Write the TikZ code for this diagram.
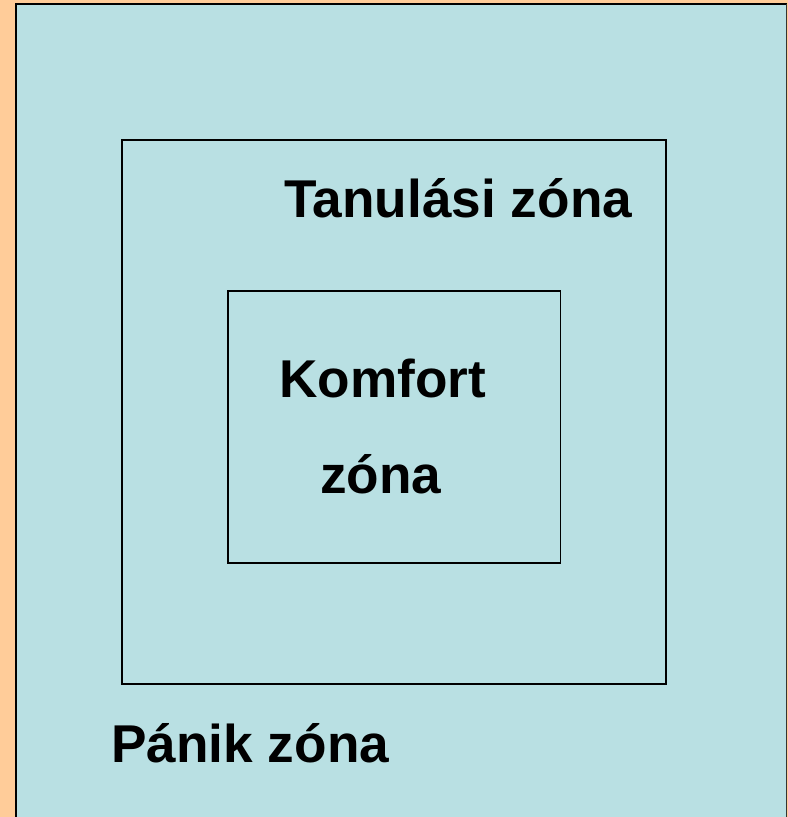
\documentclass[tikz,border=0pt]{standalone}
\usepackage{fontspec}
\setmainfont{Liberation Sans}
\definecolor{bgorange}{RGB}{255,204,153}
\definecolor{zoneblue}{RGB}{185,224,227}
\tikzset{
  zonebox/.style={draw=black, line width=1.5pt*0.75},
  zonelabel/.style={anchor=base west, inner sep=0pt, font=\fontsize{39.9pt}{46pt}\selectfont\bfseries}
}
\begin{document}
\begin{tikzpicture}[x=0.75pt,y=-0.75pt]
\useasboundingbox (0,0) rectangle (788,817);
\fill[bgorange] (0,0) rectangle (788,817);
\fill[zoneblue] (16,4) rectangle (787,830);
\draw[black, line width=1.5pt] (16,830) -- (16,4) -- (786.5,4);
\draw[black!80, line width=0.75pt] (786.5,4) -- (786.5,830);
% boxes
\draw[zonebox] (122,140) rectangle (666,684);
\draw[zonebox] (228,291) rectangle (560.5,563);
% labels
\node[zonelabel] (tan) at (284,217) {Tanulási zóna};
\node[zonelabel] (kom) at (279,397) {Komfort};
\node[zonelabel] (kz) at (320,493) {zóna};
\node[zonelabel] (pan) at (111,762) {Pánik zóna};
\end{tikzpicture}
\end{document}
